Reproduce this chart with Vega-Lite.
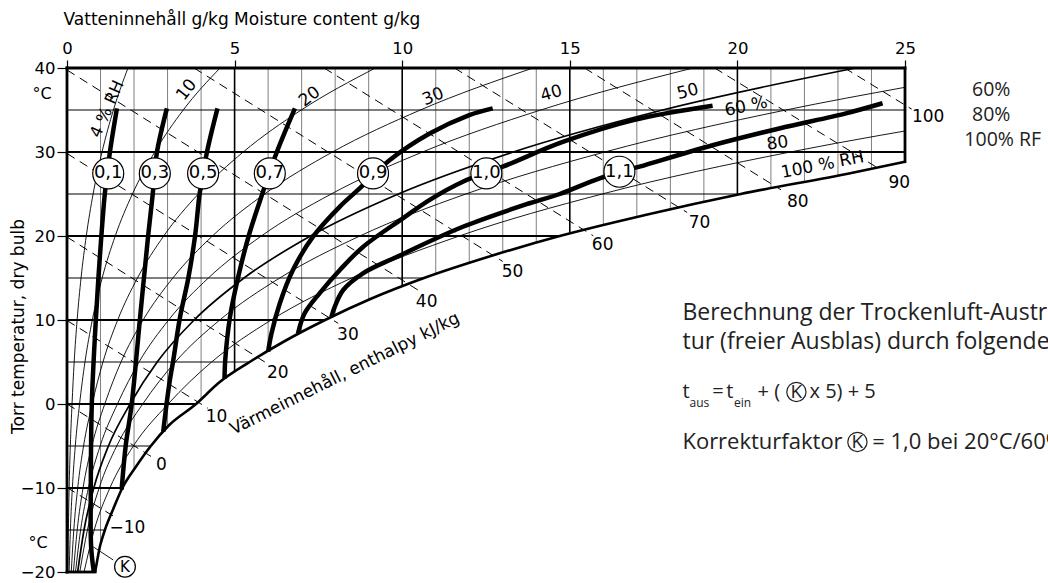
{
"$schema": "https://vega.github.io/schema/vega-lite/v6.json",
"width": 838, "height": 504,
"autosize": {"type": "none"},
"padding": {"left": 67, "top": 68, "right": 143, "bottom": 11},
"background": "white",
"config": {"view": {"stroke": null}, "font": "DejaVu Sans"},
"datasets": {
"vminor": [{"w":1,"t":40,"t2":-16.7},{"w":2,"t":40,"t2":-7.8},{"w":3,"t":40,"t2":-2.7},{"w":4,"t":40,"t2":0.56},{"w":6,"t":40,"t2":6.31},{"w":7,"t":40,"t2":8.54},{"w":8,"t":40,"t2":10.56},{"w":9,"t":40,"t2":12.41},{"w":11,"t":40,"t2":15.46},{"w":12,"t":40,"t2":16.78},{"w":13,"t":40,"t2":18.02},{"w":14,"t":40,"t2":19.19},{"w":16,"t":40,"t2":21.27},{"w":17,"t":40,"t2":22.25},{"w":18,"t":40,"t2":23.16},{"w":19,"t":40,"t2":24.04},{"w":21,"t":40,"t2":25.68},{"w":22,"t":40,"t2":26.44},{"w":23,"t":40,"t2":27.2},{"w":24,"t":40,"t2":28.0}],
"vmajor": [{"w":5,"t":40,"t2":3.79},{"w":10,"t":40,"t2":13.98},{"w":15,"t":40,"t2":20.29},{"w":20,"t":40,"t2":24.91}],
"hminor": [{"t":-15,"w":0,"w2":1.13},{"t":-5,"w":0,"w2":2.5},{"t":5,"w":0,"w2":5.45},{"t":15,"w":0,"w2":10.65},{"t":25,"w":0,"w2":20.1},{"t":35,"w":0,"w2":25}],
"hmajor": [{"t":-10,"w":0,"w2":1.65},{"t":0,"w":0,"w2":3.85},{"t":10,"w":0,"w2":7.7},{"t":20,"w":0,"w2":14.7},{"t":30,"w":0,"w2":25}],
"border": [{"w":0,"t":-20,"w2":0,"t2":40},{"w":0,"t":40,"w2":25,"t2":40},{"w":25,"t":28.85,"w2":25,"t2":40},{"w":0,"t":-20,"w2":0.84,"t2":-20}],
"enth": [{"h":-10,"w":0,"t":-9.94,"w2":1.5,"t2":-13.63},{"h":0,"w":0,"t":0,"w2":2.52,"t2":-6.27},{"h":10,"w":0,"t":9.94,"w2":4.2,"t2":-0.5},{"h":20,"w":0,"t":19.88,"w2":5.9,"t2":5.0},{"h":30,"w":0,"t":29.82,"w2":8.09,"t2":9.6},{"h":40,"w":0,"t":39.76,"w2":10.47,"t2":13.57},{"h":50,"w":3.79,"t":40,"w2":13.0,"t2":16.97},{"h":60,"w":7.67,"t":40,"w2":15.7,"t2":20.02},{"h":70,"w":11.56,"t":40,"w2":18.5,"t2":22.8},{"h":80,"w":15.44,"t":40,"w2":21.3,"t2":25.5},{"h":90,"w":19.32,"t":40,"w2":24.23,"t2":28.0},{"h":100,"w":23.2,"t":40,"w2":25.2,"t2":35.1}],
"elab": [{"lab":"−10","w":1.8,"t":-14.8},{"lab":"0","w":2.82,"t":-7.26},{"lab":"10","w":4.46,"t":-1.51},{"lab":"20","w":6.29,"t":3.69},{"lab":"30","w":8.38,"t":8.21},{"lab":"40","w":10.73,"t":12.14},{"lab":"50","w":13.29,"t":15.71},{"lab":"60","w":15.98,"t":18.93},{"lab":"70","w":18.87,"t":21.51},{"lab":"80","w":21.8,"t":24.08},{"lab":"90","w":24.83,"t":26.27},{"lab":"100","w":25.69,"t":34.2}],
"rh": [
{"rh":4,"t":-20,"w":0.025},{"rh":4,"t":-15,"w":0.041},{"rh":4,"t":-10,"w":0.064},{"rh":4,"t":-5,"w":0.099},{"rh":4,"t":0,"w":0.15},{"rh":4,"t":5,"w":0.214},{"rh":4,"t":10,"w":0.302},{"rh":4,"t":15,"w":0.419},{"rh":4,"t":20,"w":0.575},{"rh":4,"t":25,"w":0.779},{"rh":4,"t":30,"w":1.045},{"rh":4,"t":35,"w":1.385},{"rh":4,"t":40,"w":1.819},
{"rh":10,"t":-20,"w":0.064},{"rh":10,"t":-15,"w":0.101},{"rh":10,"t":-10,"w":0.16},{"rh":10,"t":-5,"w":0.247},{"rh":10,"t":0,"w":0.375},{"rh":10,"t":5,"w":0.536},{"rh":10,"t":10,"w":0.755},{"rh":10,"t":15,"w":1.049},{"rh":10,"t":20,"w":1.439},{"rh":10,"t":25,"w":1.951},{"rh":10,"t":30,"w":2.618},{"rh":10,"t":35,"w":3.468},{"rh":10,"t":40,"w":4.566},
{"rh":20,"t":-20,"w":0.127},{"rh":20,"t":-15,"w":0.203},{"rh":20,"t":-10,"w":0.319},{"rh":20,"t":-5,"w":0.494},{"rh":20,"t":0,"w":0.751},{"rh":20,"t":5,"w":1.073},{"rh":20,"t":10,"w":1.512},{"rh":20,"t":15,"w":2.102},{"rh":20,"t":20,"w":2.885},{"rh":20,"t":25,"w":3.916},{"rh":20,"t":30,"w":5.258},{"rh":20,"t":35,"w":6.988},{"rh":20,"t":40,"w":9.2},
{"rh":30,"t":-20,"w":0.191},{"rh":30,"t":-15,"w":0.304},{"rh":30,"t":-10,"w":0.479},{"rh":30,"t":-5,"w":0.74},{"rh":30,"t":0,"w":1.127},{"rh":30,"t":5,"w":1.611},{"rh":30,"t":10,"w":2.27},{"rh":30,"t":15,"w":3.157},{"rh":30,"t":20,"w":4.338},{"rh":30,"t":25,"w":5.893},{"rh":30,"t":30,"w":7.92},{"rh":30,"t":35,"w":10.541},{"rh":30,"t":40,"w":13.903},
{"rh":40,"t":-20,"w":0.254},{"rh":40,"t":-15,"w":0.406},{"rh":40,"t":-10,"w":0.639},{"rh":40,"t":-5,"w":0.988},{"rh":40,"t":0,"w":1.504},{"rh":40,"t":5,"w":2.15},{"rh":40,"t":10,"w":3.031},{"rh":40,"t":15,"w":4.217},{"rh":40,"t":20,"w":5.797},{"rh":40,"t":25,"w":7.882},{"rh":40,"t":30,"w":10.606},{"rh":40,"t":35,"w":14.135},{"rh":40,"t":40,"w":18.677},
{"rh":60,"t":-20,"w":0.381},{"rh":60,"t":-15,"w":0.609},{"rh":60,"t":-10,"w":0.959},{"rh":60,"t":-5,"w":1.483},{"rh":60,"t":0,"w":2.259},{"rh":60,"t":5,"w":3.23},{"rh":60,"t":10,"w":4.557},{"rh":60,"t":15,"w":6.346},{"rh":60,"t":20,"w":8.737},{"rh":60,"t":25,"w":11.898},{"rh":60,"t":30,"w":16.045},{"rh":60,"t":35,"w":21.446},{"rh":60,"t":37.7,"w":25},
{"rh":80,"t":-20,"w":0.508},{"rh":80,"t":-15,"w":0.812},{"rh":80,"t":-10,"w":1.279},{"rh":80,"t":-5,"w":1.979},{"rh":80,"t":0,"w":3.016},{"rh":80,"t":5,"w":4.315},{"rh":80,"t":10,"w":6.091},{"rh":80,"t":15,"w":8.491},{"rh":80,"t":20,"w":11.704},{"rh":80,"t":25,"w":15.966},{"rh":80,"t":30,"w":21.579},{"rh":80,"t":32,"w":24.28},{"rh":80,"t":32.5,"w":25}],
"rh50": [{"rh":50,"t":-20,"w":0.318},{"rh":50,"t":-15,"w":0.507},{"rh":50,"t":-10,"w":0.799},{"rh":50,"t":-5,"w":1.236},{"rh":50,"t":0,"w":1.882},{"rh":50,"t":5,"w":2.69},{"rh":50,"t":10,"w":3.793},{"rh":50,"t":15,"w":5.28},{"rh":50,"t":20,"w":7.264},{"rh":50,"t":25,"w":9.884},{"rh":50,"t":30,"w":13.314},{"rh":50,"t":35,"w":17.77},{"rh":50,"t":40,"w":23.522}],
"sat": [{"t":-20,"w":0.84},{"t":-18,"w":0.93},{"t":-17,"w":0.98},{"t":-16,"w":1.05},{"t":-15,"w":1.13},{"t":-12.5,"w":1.38},{"t":-10,"w":1.65},{"t":-7.5,"w":2.05},{"t":-5,"w":2.5},{"t":-2.5,"w":3.05},{"t":0,"w":3.85},{"t":2.5,"w":4.52},{"t":5,"w":5.45},{"t":7.5,"w":6.5},{"t":10,"w":7.7},{"t":12.5,"w":9.05},{"t":15,"w":10.65},{"t":17.5,"w":12.55},{"t":20,"w":14.7},{"t":22.5,"w":17.25},{"t":25,"w":20.1},{"t":27.5,"w":23.4},{"t":28.85,"w":25}],
"kl": [
{"k":"0,1","t":-20,"w":0.8},{"k":"0,1","t":-17,"w":0.72},{"k":"0,1","t":-10,"w":0.71},{"k":"0,1","t":0,"w":0.74},{"k":"0,1","t":10,"w":0.86},{"k":"0,1","t":17.5,"w":0.98},{"k":"0,1","t":25.1,"w":1.13},{"k":"0,1","t":30,"w":1.28},{"k":"0,1","t":35.2,"w":1.49},
{"k":"0,3","t":-10.2,"w":1.63},{"k":"0,3","t":-5,"w":1.75},{"k":"0,3","t":0,"w":1.93},{"k":"0,3","t":10.3,"w":2.18},{"k":"0,3","t":20,"w":2.42},{"k":"0,3","t":25.1,"w":2.56},{"k":"0,3","t":29.9,"w":2.68},{"k":"0,3","t":35.2,"w":2.98},
{"k":"0,5","t":-3.3,"w":2.87},{"k":"0,5","t":0,"w":2.97},{"k":"0,5","t":2.86,"w":3.07},{"k":"0,5","t":5.2,"w":3.17},{"k":"0,5","t":10.3,"w":3.37},{"k":"0,5","t":15,"w":3.62},{"k":"0,5","t":20,"w":3.82},{"k":"0,5","t":25.1,"w":3.96},{"k":"0,5","t":29.9,"w":4.17},{"k":"0,5","t":35.2,"w":4.49},
{"k":"0,7","t":3.0,"w":4.7},{"k":"0,7","t":5.2,"w":4.72},{"k":"0,7","t":10.3,"w":4.86},{"k":"0,7","t":15,"w":5.1},{"k":"0,7","t":20,"w":5.42},{"k":"0,7","t":25.3,"w":5.85},{"k":"0,7","t":30,"w":6.26},{"k":"0,7","t":35.2,"w":6.8},
{"k":"0,9","t":6.23,"w":6.0},{"k":"0,9","t":8.4,"w":6.1},{"k":"0,9","t":12,"w":6.35},{"k":"0,9","t":15.95,"w":6.74},{"k":"0,9","t":19.92,"w":7.34},{"k":"0,9","t":23.5,"w":8.14},{"k":"0,9","t":25.48,"w":8.68},{"k":"0,9","t":29.05,"w":9.63},{"k":"0,9","t":32.2,"w":10.82},{"k":"0,9","t":34.4,"w":12.0},{"k":"0,9","t":35.2,"w":12.7},
{"k":"1,0","t":8.4,"w":6.89},{"k":"1,0","t":10.8,"w":7.09},{"k":"1,0","t":13.2,"w":7.54},{"k":"1,0","t":15.95,"w":8.14},{"k":"1,0","t":18.7,"w":8.83},{"k":"1,0","t":22.1,"w":10.02},{"k":"1,0","t":24.3,"w":10.82},{"k":"1,0","t":26.46,"w":11.81},{"k":"1,0","t":28.25,"w":13.0},{"k":"1,0","t":31.2,"w":14.79},{"k":"1,0","t":33.8,"w":16.9},{"k":"1,0","t":35.5,"w":19.26},
{"k":"1,1","t":10.4,"w":7.89},{"k":"1,1","t":11.6,"w":7.99},{"k":"1,1","t":13.57,"w":8.24},{"k":"1,1","t":15.56,"w":8.83},{"k":"1,1","t":17.5,"w":9.83},{"k":"1,1","t":21.1,"w":11.81},{"k":"1,1","t":23.9,"w":13.8},{"k":"1,1","t":25,"w":14.7},{"k":"1,1","t":26.87,"w":15.89},{"k":"1,1","t":28.25,"w":17.08},{"k":"1,1","t":30.8,"w":19.26},{"k":"1,1","t":32.8,"w":21.25},{"k":"1,1","t":34.6,"w":23.24},{"k":"1,1","t":35.8,"w":24.33}],
"circ": [{"lab":"0,1","w":1.23,"t":27.45},{"lab":"0,3","w":2.62,"t":27.45},{"lab":"0,5","w":4.06,"t":27.45},{"lab":"0,7","w":6.05,"t":27.45},{"lab":"0,9","w":9.13,"t":27.45},{"lab":"1,0","w":12.51,"t":27.45},{"lab":"1,1","w":16.48,"t":27.65}],
"kcirc": [{"lab":"K","w":1.73,"t":-19.37}],
"kcirc2": [{"lab":"K","w":21.76,"t":1.43},{"lab":"K","w":23.58,"t":-4.52}],
"gtext": [{"lab":"Berechnung der Trockenluft-Austrittstempera-","w":18.36,"t":10.83},{"lab":"tur (freier Ausblas) durch folgende Formel:","w":18.36,"t":7.38}],
"gtext2": [{"lab":"Korrekturfaktor","w":18.36,"t":-4.52},{"lab":"= 1,0 bei 20°C/60% RF","w":24.02,"t":-4.52}],
"gform": [{"lab":"t","w":18.36,"t":1.43},{"lab":"=","w":19.25,"t":1.43},{"lab":"t","w":19.67,"t":1.43},{"lab":"+ (","w":20.6,"t":1.43},{"lab":"x 5) + 5","w":22.15,"t":1.43}],
"gsub": [{"lab":"aus","w":18.57,"t":0.12},{"lab":"ein","w":19.9,"t":0.12}],
"rtext": [{"lab":"60%","w":27.0,"t":37.38},{"lab":"80%","w":27.0,"t":34.4},{"lab":"100% RF","w":26.77,"t":31.43}],
"deg": [{"lab":"°C","w":-0.745,"t":36.9},{"lab":"°C","w":-0.86,"t":-16.6}]
},
"layer": [
{"data": {"name": "vminor"}, "mark": {"type": "rule", "stroke": "#808080", "strokeWidth": 1},
 "encoding": {
  "x": {"field": "w", "type": "quantitative", "scale": {"domain": [0, 25], "nice": false, "zero": false},
   "axis": {"orient": "top", "values": [0,5,10,15,20,25], "title": "Vatteninnehåll g/kg  Moisture content g/kg", "titleFont": "DejaVu Sans", "titleFontSize": 17, "titleFontWeight": "normal", "titleAnchor": "start", "titleAlign": "left", "titleX": -4, "titleY": -49, "titleBaseline": "middle", "titleColor": "black", "labelFont": "DejaVu Sans", "labelFontSize": 16.5, "labelPadding": 4, "labelFlush": false, "labelColor": "black", "tickSize": 8, "tickColor": "black", "tickWidth": 1.2, "domain": false, "grid": false}},
  "y": {"field": "t", "type": "quantitative", "scale": {"domain": [-20, 40], "nice": false, "zero": false},
   "axis": {"orient": "left", "values": [-20,-10,0,10,20,30,40], "title": "Torr temperatur, dry bulb", "titleFont": "DejaVu Sans", "titleFontSize": 17, "titleFontWeight": "normal", "titleX": -49, "titleY": 258, "titleAngle": 270, "titleAlign": "center", "titleBaseline": "middle", "titleColor": "black", "labelFont": "DejaVu Sans", "labelFontSize": 16.5, "labelPadding": 2, "labelFlush": false, "labelColor": "black", "tickSize": 10, "tickColor": "black", "tickWidth": 1.2, "domain": false, "grid": false}},
  "y2": {"field": "t2"}}},
{"data": {"name": "vmajor"}, "mark": {"type": "rule", "stroke": "black", "strokeWidth": 1.6},
 "encoding": {"x": {"field": "w", "type": "quantitative"}, "y": {"field": "t", "type": "quantitative"}, "y2": {"field": "t2"}}},
{"data": {"name": "hminor"}, "mark": {"type": "rule", "stroke": "black", "strokeWidth": 1.1},
 "encoding": {"x": {"field": "w", "type": "quantitative"}, "x2": {"field": "w2"}, "y": {"field": "t", "type": "quantitative"}}},
{"data": {"name": "hmajor"}, "mark": {"type": "rule", "stroke": "black", "strokeWidth": 2.2},
 "encoding": {"x": {"field": "w", "type": "quantitative"}, "x2": {"field": "w2"}, "y": {"field": "t", "type": "quantitative"}}},
{"data": {"name": "enth"}, "mark": {"type": "rule", "stroke": "black", "strokeWidth": 1, "strokeDash": [9, 6]},
 "encoding": {"x": {"field": "w", "type": "quantitative"}, "x2": {"field": "w2"}, "y": {"field": "t", "type": "quantitative"}, "y2": {"field": "t2"}}},
{"data": {"name": "rh"}, "mark": {"type": "line", "stroke": "black", "strokeWidth": 0.9, "interpolate": "monotone"},
 "encoding": {"x": {"field": "w", "type": "quantitative"}, "y": {"field": "t", "type": "quantitative"}, "detail": {"field": "rh", "type": "nominal"}, "order": {"field": "t", "type": "quantitative"}}},
{"data": {"name": "rh50"}, "mark": {"type": "line", "stroke": "black", "strokeWidth": 1.7, "interpolate": "monotone"},
 "encoding": {"x": {"field": "w", "type": "quantitative"}, "y": {"field": "t", "type": "quantitative"}, "order": {"field": "t", "type": "quantitative"}}},
{"data": {"name": "sat"}, "mark": {"type": "line", "stroke": "black", "strokeWidth": 2.6, "interpolate": "monotone"},
 "encoding": {"x": {"field": "w", "type": "quantitative"}, "y": {"field": "t", "type": "quantitative"}, "order": {"field": "t", "type": "quantitative"}}},
{"data": {"name": "border"}, "mark": {"type": "rule", "stroke": "black", "strokeWidth": 2.8, "strokeCap": "square"},
 "encoding": {"x": {"field": "w", "type": "quantitative"}, "x2": {"field": "w2"}, "y": {"field": "t", "type": "quantitative"}, "y2": {"field": "t2"}}},
{"data": {"name": "kl"}, "mark": {"type": "line", "stroke": "black", "strokeWidth": 4.5, "interpolate": "catmull-rom"},
 "encoding": {"x": {"field": "w", "type": "quantitative"}, "y": {"field": "t", "type": "quantitative"}, "detail": {"field": "k", "type": "nominal"}, "order": {"field": "t", "type": "quantitative"}}},
{"data": {"values": [{"w": 0.78, "t": -17.0, "w2": 1.38, "t2": -18.57}]}, "mark": {"type": "rule", "stroke": "black", "strokeWidth": 0.9},
 "encoding": {"x": {"field": "w", "type": "quantitative"}, "x2": {"field": "w2"}, "y": {"field": "t", "type": "quantitative"}, "y2": {"field": "t2"}}},
{"data": {"name": "circ"}, "mark": {"type": "point", "shape": "circle", "size": 960, "filled": true, "fill": "white", "stroke": "black", "strokeWidth": 1.2, "opacity": 1},
 "encoding": {"x": {"field": "w", "type": "quantitative"}, "y": {"field": "t", "type": "quantitative"}}},
{"data": {"name": "circ"}, "mark": {"type": "text", "fontSize": 18, "font": "DejaVu Sans", "align": "center", "baseline": "middle", "color": "black"},
 "encoding": {"x": {"field": "w", "type": "quantitative"}, "y": {"field": "t", "type": "quantitative"}, "text": {"field": "lab"}}},
{"data": {"name": "kcirc"}, "mark": {"type": "point", "shape": "circle", "size": 430, "filled": true, "fill": "white", "stroke": "black", "strokeWidth": 1.2, "opacity": 1},
 "encoding": {"x": {"field": "w", "type": "quantitative"}, "y": {"field": "t", "type": "quantitative"}}},
{"data": {"name": "kcirc"}, "mark": {"type": "text", "fontSize": 15, "align": "center", "baseline": "middle", "color": "black"},
 "encoding": {"x": {"field": "w", "type": "quantitative"}, "y": {"field": "t", "type": "quantitative"}, "text": {"field": "lab"}}},
{"data": {"name": "elab"}, "mark": {"type": "text", "fontSize": 17, "align": "center", "baseline": "middle", "color": "black"},
 "encoding": {"x": {"field": "w", "type": "quantitative"}, "y": {"field": "t", "type": "quantitative"}, "text": {"field": "lab"}}},
{"data": {"values": [{"lab": "4 % RH", "w": 1.2, "t": 35.1}]}, "mark": {"type": "text", "fontSize": 16.5, "angle": -66, "align": "center", "baseline": "middle", "color": "black"},
 "encoding": {"x": {"field": "w", "type": "quantitative"}, "y": {"field": "t", "type": "quantitative"}, "text": {"field": "lab"}}},
{"data": {"values": [{"lab": "10", "w": 3.57, "t": 37.38}]}, "mark": {"type": "text", "fontSize": 17, "angle": -52, "align": "center", "baseline": "middle", "color": "black"},
 "encoding": {"x": {"field": "w", "type": "quantitative"}, "y": {"field": "t", "type": "quantitative"}, "text": {"field": "lab"}}},
{"data": {"values": [{"lab": "20", "w": 7.24, "t": 36.58}]}, "mark": {"type": "text", "fontSize": 17, "angle": -38, "align": "center", "baseline": "middle", "color": "black"},
 "encoding": {"x": {"field": "w", "type": "quantitative"}, "y": {"field": "t", "type": "quantitative"}, "text": {"field": "lab"}}},
{"data": {"values": [{"lab": "30", "w": 10.92, "t": 36.58}]}, "mark": {"type": "text", "fontSize": 17, "angle": -22, "align": "center", "baseline": "middle", "color": "black"},
 "encoding": {"x": {"field": "w", "type": "quantitative"}, "y": {"field": "t", "type": "quantitative"}, "text": {"field": "lab"}}},
{"data": {"values": [{"lab": "40", "w": 14.45, "t": 36.98}]}, "mark": {"type": "text", "fontSize": 17, "angle": -16, "align": "center", "baseline": "middle", "color": "black"},
 "encoding": {"x": {"field": "w", "type": "quantitative"}, "y": {"field": "t", "type": "quantitative"}, "text": {"field": "lab"}}},
{"data": {"values": [{"lab": "50", "w": 18.52, "t": 37.18}]}, "mark": {"type": "text", "fontSize": 17, "angle": -14, "align": "center", "baseline": "middle", "color": "black"},
 "encoding": {"x": {"field": "w", "type": "quantitative"}, "y": {"field": "t", "type": "quantitative"}, "text": {"field": "lab"}}},
{"data": {"values": [{"lab": "60 %", "w": 20.26, "t": 35.39}]}, "mark": {"type": "text", "fontSize": 17, "angle": -12, "align": "center", "baseline": "middle", "color": "black"},
 "encoding": {"x": {"field": "w", "type": "quantitative"}, "y": {"field": "t", "type": "quantitative"}, "text": {"field": "lab"}}},
{"data": {"values": [{"lab": "80", "w": 21.2, "t": 31.04}]}, "mark": {"type": "text", "fontSize": 17, "angle": -8, "align": "center", "baseline": "middle", "color": "black"},
 "encoding": {"x": {"field": "w", "type": "quantitative"}, "y": {"field": "t", "type": "quantitative"}, "text": {"field": "lab"}}},
{"data": {"values": [{"lab": "100 % RH", "w": 22.54, "t": 28.45}]}, "mark": {"type": "text", "fontSize": 17, "angle": -11, "align": "center", "baseline": "middle", "color": "black"},
 "encoding": {"x": {"field": "w", "type": "quantitative"}, "y": {"field": "t", "type": "quantitative"}, "text": {"field": "lab"}}},
{"data": {"values": [{"lab": "Värmeinnehåll, enthalpy kJ/kg", "w": 8.29, "t": 3.6}]}, "mark": {"type": "text", "fontSize": 17, "angle": -26.5, "align": "center", "baseline": "middle", "color": "black"},
 "encoding": {"x": {"field": "w", "type": "quantitative"}, "y": {"field": "t", "type": "quantitative"}, "text": {"field": "lab"}}},
{"data": {"name": "deg"}, "mark": {"type": "text", "fontSize": 16, "align": "center", "baseline": "middle", "color": "black"},
 "encoding": {"x": {"field": "w", "type": "quantitative"}, "y": {"field": "t", "type": "quantitative"}, "text": {"field": "lab"}}},
{"data": {"name": "rtext"}, "mark": {"type": "text", "fontSize": 19.5, "font": "Open Sans", "align": "left", "baseline": "middle", "color": "#222"},
 "encoding": {"x": {"field": "w", "type": "quantitative"}, "y": {"field": "t", "type": "quantitative"}, "text": {"field": "lab"}}},
{"data": {"name": "gtext"}, "mark": {"type": "text", "fontSize": 23, "font": "Open Sans", "align": "left", "baseline": "middle", "color": "#222"},
 "encoding": {"x": {"field": "w", "type": "quantitative"}, "y": {"field": "t", "type": "quantitative"}, "text": {"field": "lab"}}},
{"data": {"name": "gtext2"}, "mark": {"type": "text", "fontSize": 22, "font": "Open Sans", "align": "left", "baseline": "middle", "color": "#222"},
 "encoding": {"x": {"field": "w", "type": "quantitative"}, "y": {"field": "t", "type": "quantitative"}, "text": {"field": "lab"}}},
{"data": {"name": "gform"}, "mark": {"type": "text", "fontSize": 20, "font": "Open Sans", "align": "left", "baseline": "middle", "color": "#222"},
 "encoding": {"x": {"field": "w", "type": "quantitative"}, "y": {"field": "t", "type": "quantitative"}, "text": {"field": "lab"}}},
{"data": {"name": "gsub"}, "mark": {"type": "text", "fontSize": 12, "font": "Open Sans", "align": "left", "baseline": "middle", "color": "#222"},
 "encoding": {"x": {"field": "w", "type": "quantitative"}, "y": {"field": "t", "type": "quantitative"}, "text": {"field": "lab"}}},
{"data": {"name": "kcirc2"}, "mark": {"type": "point", "shape": "circle", "size": 370, "filled": true, "fill": "white", "stroke": "#222", "strokeWidth": 1.2, "opacity": 1},
 "encoding": {"x": {"field": "w", "type": "quantitative"}, "y": {"field": "t", "type": "quantitative"}}},
{"data": {"name": "kcirc2"}, "mark": {"type": "text", "fontSize": 19, "font": "Open Sans", "align": "center", "baseline": "middle", "color": "#222"},
 "encoding": {"x": {"field": "w", "type": "quantitative"}, "y": {"field": "t", "type": "quantitative"}, "text": {"field": "lab"}}}
]
}
